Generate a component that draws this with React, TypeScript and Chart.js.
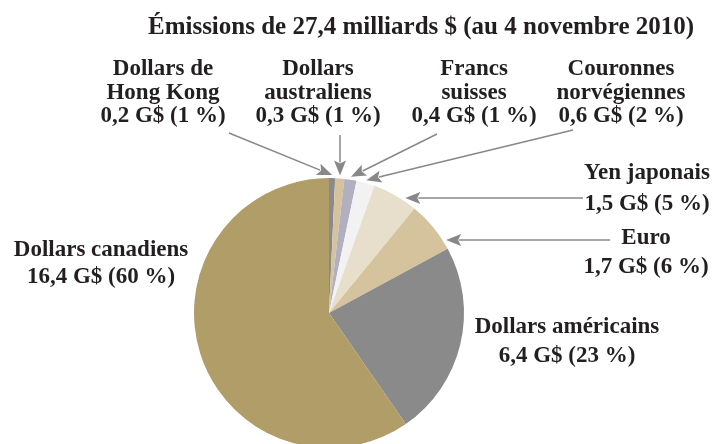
import React, { useEffect, useRef } from "react";
import { Chart, registerables } from "chart.js";
Chart.register(...registerables);

const TITLE = "Émissions de 27,4 milliards $ (au 4 novembre 2010)";
const categories = [
  "Dollars de Hong Kong",
  "Dollars australiens",
  "Francs suisses",
  "Couronnes norvégiennes",
  "Yen japonais",
  "Euro",
  "Dollars américains",
  "Dollars canadiens",
];
const nameLines = [
  ["Dollars de", "Hong Kong"],
  ["Dollars", "australiens"],
  ["Francs", "suisses"],
  ["Couronnes", "norvégiennes"],
  ["Yen japonais"],
  ["Euro"],
  ["Dollars américains"],
  ["Dollars canadiens"],
];
const valuesG = [0.2, 0.3, 0.4, 0.6, 1.5, 1.7, 6.4, 16.4];
const percents = [1, 1, 1, 2, 5, 6, 23, 60];
const colors = [
  "#8a8a8a",
  "#d5c39d",
  "#b1afc0",
  "#f2f2f3",
  "#e7dfcb",
  "#d4c39c",
  "#8a8a8a",
  "#b19d68",
];

// label layout (style only): centre x, line baselines, arrow start
type Lay = { x: number; ys: number[]; from?: [number, number]; horiz?: boolean };
const layout: Lay[] = [
  { x: 163, ys: [75, 99, 122], from: [229, 133] },
  { x: 318, ys: [75, 99, 122], from: [340, 135] },
  { x: 474, ys: [75, 99, 122], from: [437, 134] },
  { x: 621, ys: [75, 99, 122], from: [573, 130] },
  { x: 647, ys: [179, 210], from: [583, 198], horiz: true },
  { x: 646, ys: [244, 273], from: [610, 240], horiz: true },
  { x: 567, ys: [333, 362] },
  { x: 101, ys: [256, 283] },
];

const fmt = (v: number, p: number) =>
  v.toFixed(1).replace(".", ",") + " G$ (" + p + " %)";

const TEXT = "#231f20";
const ARROW = "#888888";

const overlay = {
  id: "overlay",
  afterDraw(chart: any) {
    const ctx = chart.ctx as CanvasRenderingContext2D;
    ctx.save();
    ctx.fillStyle = TEXT;
    ctx.textAlign = "center";
    ctx.textBaseline = "alphabetic";
    ctx.font = "bold 25px 'Liberation Serif'";
    ctx.fillText(TITLE, 421, 34);

    const meta = chart.getDatasetMeta(0);
    ctx.font = "bold 23px 'Liberation Serif'";
    layout.forEach((L, i) => {
      const lines = [...nameLines[i], fmt(valuesG[i], percents[i])];
      lines.forEach((t, k) => {
        ctx.fillStyle = TEXT;
        ctx.fillText(t, L.x, L.ys[k]);
      });
      if (!L.from) return;
      const arc = meta.data[i] as any;
      const cx = arc.x, cy = arc.y, r = arc.outerRadius + 3;
      let tx: number, ty: number;
      if (L.horiz) {
        ty = L.from[1];
        tx = cx + Math.sqrt(Math.max(r * r - (ty - cy) * (ty - cy), 0));
      } else {
        const a = (arc.startAngle + arc.endAngle) / 2;
        tx = cx + r * Math.cos(a);
        ty = cy + r * Math.sin(a);
      }
      const [fx, fy] = L.from;
      const dx = tx - fx, dy = ty - fy;
      const len = Math.hypot(dx, dy);
      const ux = dx / len, uy = dy / len;
      const hl = 15, hw = 6;
      const bx = tx - ux * hl, by = ty - uy * hl;
      ctx.strokeStyle = ARROW;
      ctx.lineWidth = 1.5;
      ctx.beginPath();
      ctx.moveTo(fx, fy);
      ctx.lineTo(bx + ux * 2, by + uy * 2);
      ctx.stroke();
      ctx.fillStyle = ARROW;
      ctx.beginPath();
      ctx.moveTo(tx, ty);
      ctx.lineTo(bx - uy * hw, by + ux * hw);
      ctx.lineTo(bx + ux * 3, by + uy * 3);
      ctx.lineTo(bx + uy * hw, by - ux * hw);
      ctx.closePath();
      ctx.fill();
    });
    ctx.restore();
  },
};

export default function App() {
  const ref = useRef<HTMLCanvasElement>(null);
  useEffect(() => {
    if (!ref.current) return;
    const chart = new Chart(ref.current, {
      type: "pie",
      data: {
        labels: categories,
        datasets: [
          {
            data: valuesG,
            backgroundColor: colors,
            borderWidth: 0,
          },
        ],
      },
      options: {
        responsive: false,
        animation: false,
        devicePixelRatio: 1,
        layout: { padding: { top: 178, left: 194, right: 249, bottom: 12 } },
        plugins: {
          legend: { display: false },
          tooltip: { enabled: false },
          title: { display: false },
        },
      },
      plugins: [overlay],
    });
    return () => chart.destroy();
  }, []);
  return (
    <div
      style={{
        position: "fixed",
        left: 0,
        top: 0,
        width: 713,
        height: 444,
        overflow: "hidden",
        background: "#fff",
      }}
    >
      <canvas ref={ref} width={713} height={460} style={{ display: "block" }} />
    </div>
  );
}
